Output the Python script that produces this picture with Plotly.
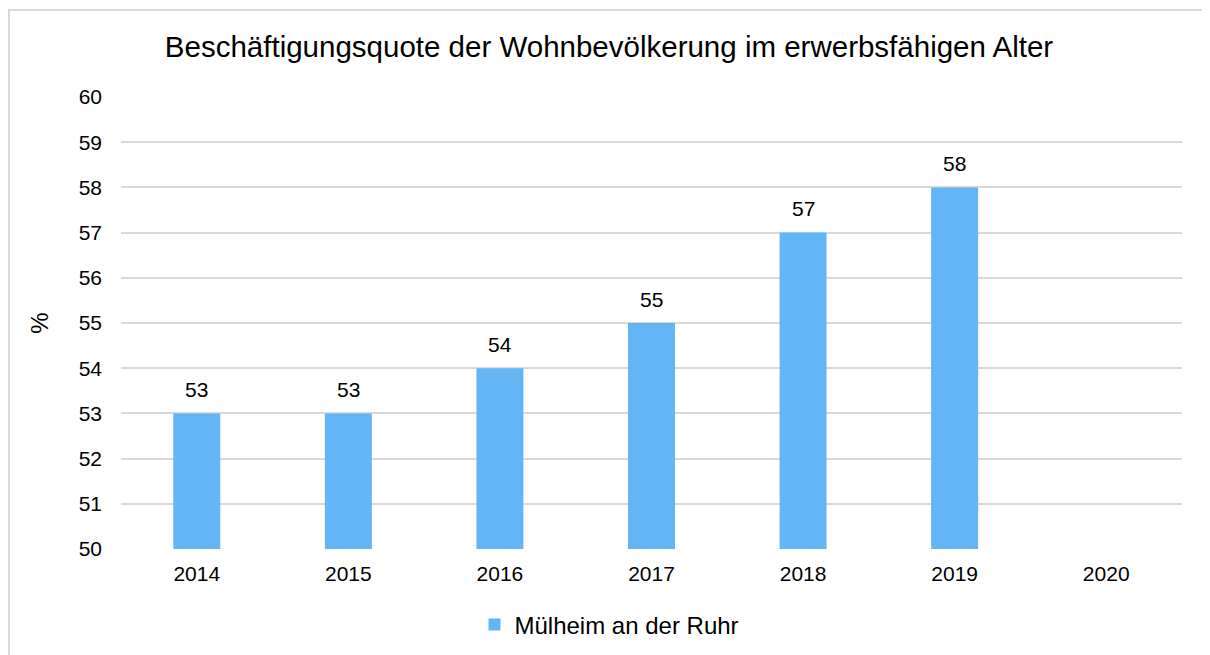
import plotly.graph_objects as go

years = ["2014", "2015", "2016", "2017", "2018", "2019", "2020"]
values = [53, 53, 54, 55, 57, 58, None]
series_name = "Mülheim an der Ruhr"
title = "Beschäftigungsquote der Wohnbevölkerung im erwerbsfähigen Alter"

FONT = "Liberation Sans, Arial, sans-serif"

W, H = 1202, 647
L, R, T, B = 113, 28, 89, 106
PW, PH = W - L - R, H - T - B

fig = go.Figure()
fig.add_trace(go.Bar(
    x=years, y=values, name=series_name,
    marker=dict(color="#63b5f6", line=dict(width=0)),
))

annotations = []
for i, v in enumerate(values):
    if v is None:
        continue
    annotations.append(dict(x=i, y=v, xref="x", yref="y", text=str(v), showarrow=False,
                            yanchor="middle", yshift=24,
                            font=dict(size=21, family=FONT, color="#000000")))

fig.update_layout(
    width=W, height=H,
    margin=dict(l=L, r=R, t=T, b=B, autoexpand=False),
    paper_bgcolor="white", plot_bgcolor="white",
    font=dict(family=FONT, color="#000000"),
    title=dict(text=title, x=0.5, xanchor="center", xref="container",
               y=1 - (47 - 8) / H, yanchor="middle",
               font=dict(size=29.5, family=FONT, color="#000000")),
    bargap=0.69,
    showlegend=True,
    legend=dict(orientation="h", x=0.5 - 42 / PW, xanchor="center",
                y=-(625 - 8 - (T + PH)) / PH, yanchor="middle",
                font=dict(size=24, family=FONT), itemwidth=30),
    xaxis=dict(type="category", showgrid=False, showline=False, ticks="",
               range=[-0.5, len(years) - 0.5], autorange=False,
               tickfont=dict(size=21, family=FONT), ticklabelstandoff=10),
    yaxis=dict(range=[50, 60], dtick=1, showgrid=True, gridcolor="#d9d9d9", gridwidth=2,
               zeroline=False, showline=False, ticks="",
               tickfont=dict(size=21, family=FONT), ticklabelstandoff=18,
               title=dict(text="%", font=dict(size=24, family=FONT), standoff=23)),
    annotations=annotations,
    shapes=[dict(type="rect", xref="paper", yref="paper",
                 x0=-(L - 1) / PW, x1=1 + (R + 20) / PW,
                 y0=-(B + 20) / PH, y1=1 + (T - 2) / PH,
                 line=dict(color="#d9d9d9", width=2), fillcolor="rgba(0,0,0,0)", layer="below")],
)

fig.write_html("out.html")
